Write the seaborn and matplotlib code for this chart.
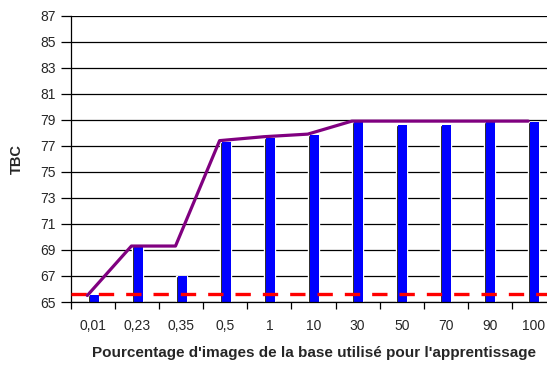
import numpy as np
import matplotlib
matplotlib.use("Agg")
import matplotlib.pyplot as plt
import seaborn as sns

# Percentage of the image base used for training
categories = ["0,01", "0,23", "0,35", "0,5", "1", "10", "30", "50", "70", "90", "100"]
# TBC measured for each training percentage
tbc_values = [65.5, 69.3, 67.0, 77.3, 77.6, 77.8, 78.8, 78.6, 78.6, 78.8, 78.8]
# Best TBC reached so far
best_tbc = [65.5, 69.3, 69.3, 77.4, 77.7, 77.9, 78.9, 78.9, 78.9, 78.9, 78.9]
# Reference level (dashed line)
baseline = 65.6

sns.set_style("white")
plt.rcParams["font.family"] = ["Liberation Sans", "DejaVu Sans"]

fig = plt.figure(figsize=(5.47, 3.65), dpi=100)
ax = fig.add_axes([0.1298, 0.1726, 0.8867, 0.7844])

pos = np.arange(len(categories))

# Bars: dark left strip underneath, blue face on top
sns.barplot(x=categories, y=tbc_values, color="black", width=0.25,
            saturation=1, ax=ax, zorder=2)
ax.bar(pos + 0.0225, tbc_values, width=0.205, color="#0000FF",
       linewidth=0, zorder=2.5)

# Reference level
ax.axhline(baseline, color="#FF0000", linewidth=2.4,
           linestyle=(0, (4.6, 3.6)), zorder=3)

# Best-so-far curve
sns.lineplot(x=pos - 0.13, y=best_tbc, color="#800080", linewidth=2.3,
             ax=ax, zorder=4)

ax.set_ylim(65, 87)
ax.set_xlim(-0.5, len(categories) - 0.5)
ax.set_yticks(np.arange(65, 88, 2))
ax.yaxis.grid(True, color="black", linewidth=0.9)
ax.set_axisbelow(True)

# Tick marks between categories, labels centred on categories
ax.set_xticks(np.arange(-0.5, len(categories), 1))
ax.set_xticklabels([])
ax.set_xticks(pos, minor=True)
ax.set_xticklabels(categories, minor=True)
ax.tick_params(axis="x", which="major", direction="out", length=5,
               width=0.9, color="black", bottom=True)
ax.tick_params(axis="x", which="minor", length=0, pad=12, labelsize=10)
ax.tick_params(axis="y", direction="out", length=7, width=0.9,
               color="black", left=True, pad=4, labelsize=10)

for side in ("top", "right"):
    ax.spines[side].set_visible(False)
for side in ("left", "bottom"):
    ax.spines[side].set_color("black")
    ax.spines[side].set_linewidth(0.9)

ax.set_xlabel("Pourcentage d'images de la base utilisé pour l'apprentissage",
              fontsize=11, fontweight="bold")
ax.set_ylabel("TBC", fontsize=10.5, fontweight="bold")
ax.xaxis.set_label_coords(0.50, -0.155)
ax.yaxis.set_label_coords(-0.097, 0.5)

fig.savefig("out.png", dpi=100)
